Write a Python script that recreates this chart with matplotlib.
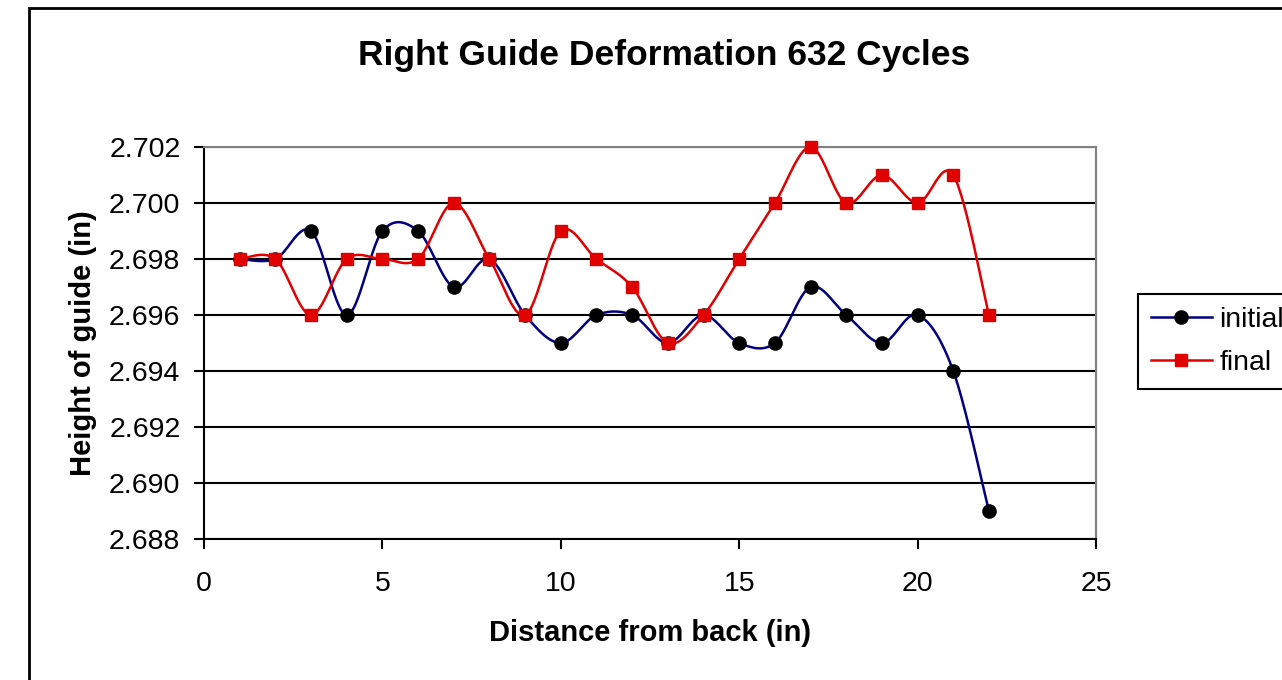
import numpy as np
import matplotlib.pyplot as plt
from matplotlib.patches import Rectangle

plt.rcParams['font.family'] = ['Liberation Sans', 'DejaVu Sans']

distance = list(range(1, 23))
initial = [2.698, 2.698, 2.699, 2.696, 2.699, 2.699, 2.697, 2.698, 2.696, 2.695, 2.696,
           2.696, 2.695, 2.696, 2.695, 2.695, 2.697, 2.696, 2.695, 2.696, 2.694, 2.689]
final = [2.698, 2.698, 2.696, 2.698, 2.698, 2.698, 2.700, 2.698, 2.696, 2.699, 2.698,
         2.697, 2.695, 2.696, 2.698, 2.700, 2.702, 2.700, 2.701, 2.700, 2.701, 2.696]


def smooth(x, y, n=30):
    # Excel-style smoothed line (Catmull-Rom through the points)
    x = np.asarray(x, float)
    y = np.asarray(y, float)
    px = np.concatenate([[x[0]], x, [x[-1]]])
    py = np.concatenate([[y[0]], y, [y[-1]]])
    xs, ys = [], []
    t = np.linspace(0, 1, n)
    for i in range(1, len(px) - 2):
        p0, p1, p2, p3 = px[i - 1], px[i], px[i + 1], px[i + 2]
        q0, q1, q2, q3 = py[i - 1], py[i], py[i + 1], py[i + 2]
        c1x, c1y = p1 + (p2 - p0) / 6, q1 + (q2 - q0) / 6
        c2x, c2y = p2 - (p3 - p1) / 6, q2 - (q3 - q1) / 6
        b = [(1 - t) ** 3, 3 * (1 - t) ** 2 * t, 3 * (1 - t) * t ** 2, t ** 3]
        xs.append(b[0] * p1 + b[1] * c1x + b[2] * c2x + b[3] * p2)
        ys.append(b[0] * q1 + b[1] * c1y + b[2] * c2y + b[3] * q2)
    return np.concatenate(xs), np.concatenate(ys)


fig = plt.figure(figsize=(12.82, 6.8), dpi=100)
ax = fig.add_axes([204 / 1282, 141 / 680, 892 / 1282, 392 / 680])

sx, sy = smooth(distance, initial)
ax.plot(sx, sy, color='#000080', lw=1.8, zorder=3, clip_on=False)
ax.plot(distance, initial, 'o', color='black', ms=9.5, zorder=4, clip_on=False)
sx, sy = smooth(distance, final)
ax.plot(sx, sy, color='#e00000', lw=1.8, zorder=3, clip_on=False)
ax.plot(distance, final, 's', color='#e00000', ms=9, zorder=4, clip_on=False)

ax.set_xlim(0, 25)
ax.set_ylim(2.688, 2.702)
ax.set_xticks([0, 5, 10, 15, 20, 25])
ax.set_yticks(np.arange(2.688, 2.7021, 0.002))
ax.set_yticklabels(['%.3f' % v for v in np.arange(2.688, 2.7021, 0.002)])
ax.tick_params(labelsize=20.5, length=7, width=1.5, direction='out')
ax.tick_params(axis='y', pad=10)
ax.tick_params(axis='x', pad=16)
ax.yaxis.grid(True, color='black', lw=1.5)
ax.set_axisbelow(True)
for s in ['left', 'bottom']:
    ax.spines[s].set_linewidth(1.5)
for s in ['top', 'right']:
    ax.spines[s].set_color('#808080')
    ax.spines[s].set_linewidth(1.5)

fig.text(664 / 1282, 1 - 55 / 680, 'Right Guide Deformation 632 Cycles',
         ha='center', va='center', fontsize=25.5, fontweight='bold')
fig.text(650 / 1282, 1 - 633 / 680, 'Distance from back (in)',
         ha='center', va='center', fontsize=21, fontweight='bold')
fig.text(83 / 1282, 1 - 343 / 680, 'Height of guide (in)', rotation=90,
         ha='center', va='center', fontsize=21, fontweight='bold')

h1, = ax.plot([], [], color='#000080', lw=1.8, marker='o', mfc='black', mec='black', ms=9.5)
h2, = ax.plot([], [], color='#e00000', lw=1.8, marker='s', ms=9)
leg = fig.legend([h1, h2], ['initial', 'final'], loc='upper left',
                 bbox_to_anchor=(1138 / 1282, 1 - 294 / 680), fontsize=20.5,
                 frameon=True, fancybox=False, edgecolor='black', framealpha=1,
                 handlelength=2.15, borderpad=0.45, labelspacing=0.6, handletextpad=0.25,
                 borderaxespad=0)
leg.get_frame().set_linewidth(1.5)

fig.patches.append(Rectangle((29 / 1282, -0.1), 1.2, 1 - 8 / 680 + 0.1,
                             transform=fig.transFigure, fill=False,
                             edgecolor='black', lw=2))

fig.savefig('out.png', dpi=100)
